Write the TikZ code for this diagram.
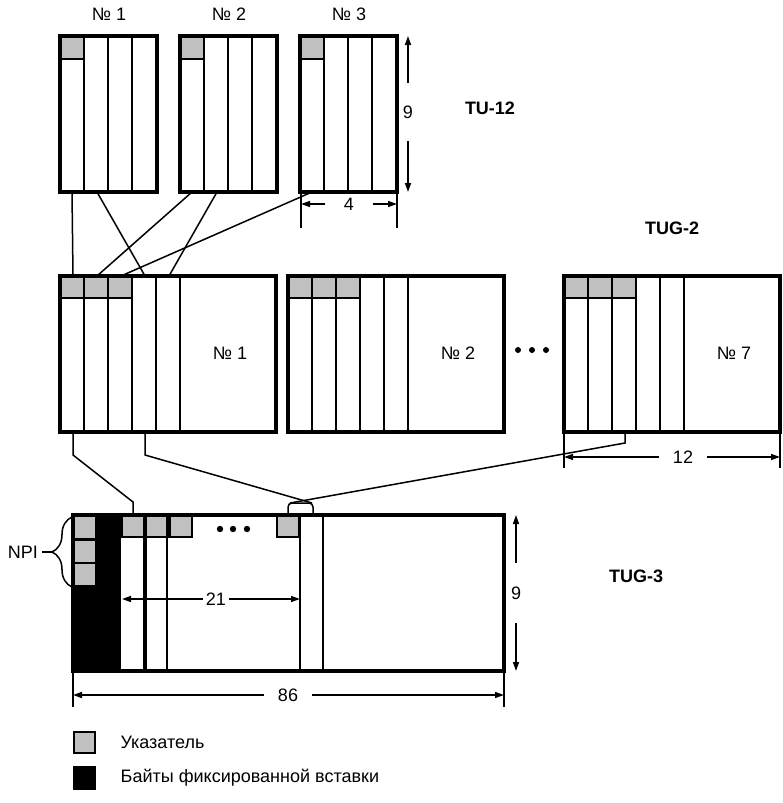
\documentclass[tikz,border=0pt]{standalone}
\usepackage{fontspec}
\setmainfont{Liberation Sans}
\usetikzlibrary{arrows.meta,positioning,calc,decorations.pathreplacing}
\definecolor{ptrgrey}{RGB}{192,192,192}
\tikzset{
  frame/.style={line width=3.3pt},
  divider/.style={line width=2.8pt},
  link/.style={line width=1.5pt},
  ptrcell/.style={fill=ptrgrey},
  dimarrow/.style={line width=1.5pt,-{Triangle[length=9pt,width=6pt]}},
  extline/.style={line width=1.5pt},
  dimlabel/.style={inner sep=0pt},
  title/.style={font=\fontsize{18}{21}\selectfont\bfseries},
}

\begin{document}
\begin{tikzpicture}[x=1pt,y=-1pt,font=\fontsize{18}{21}\selectfont]
        \useasboundingbox (0,0) rectangle (783,803);

        % TU-12 blocks
        \foreach \x/\n in {60/1,180/2,300/3} {
            \fill[ptrcell] (\x,36) rectangle (\x+24,59);
            \draw[line width=1.5pt] (\x,59) -- (\x+24,59);
            \foreach \c in {24,48,72}
                \draw[divider] (\x+\c,36) -- (\x+\c,192);
            \draw[frame] (\x,36) rectangle (\x+97,192);
            \node (tu\n) at (\x+49,14) {№ \n};
            \coordinate (tu\n-a) at (\x+12,192);
            \coordinate (tu\n-b) at (\x+37,192);
        }
        \node[title] (tu12) at (490,108) {TU-12};

        % TUG-2 blocks
        \foreach \x/\n in {60/1,288/2,564/7} {
            \fill[ptrcell] (\x,276) rectangle (\x+72,298);
            \draw[line width=1.5pt] (\x,298) -- (\x+72,298);
            \foreach \c in {24,48,72,96,120}
                \draw[divider] (\x+\c,276) -- (\x+\c,432);
            \draw[frame] (\x,276) rectangle (\x+216,432);
            \node (tug\n) at (\x+170,353) {№ \n};
            \foreach \k in {1,...,5} {
                \coordinate (tug\n-t\k) at (\x+24*\k-11,276);
                \coordinate (tug\n-b\k) at (\x+24*\k-11,432);
            }
        }
        \foreach \x in {518,532,546}
            \fill (\x,350) circle (3pt);
        \node[title] (tug2) at (672,228) {TUG-2};

        % TU-12 -> TUG-2
        \draw[link] (tu1-a) -- (tug1-t1);
        \draw[link] (tu1-b) -- (tug1-t4);
        \draw[link] (tu2-a) -- (tug1-t2);
        \draw[link] (tu2-b) -- (tug1-t5);
        \draw[link] (tu3-a) -- (tug1-t3);

        % TUG-3 block
        \fill (73,515) rectangle (121,671);
        \foreach \y in {517,541,564}
            \fill[ptrcell] (75,\y) rectangle (95,\y+21);
        \foreach \x in {122,146,170,277}
            \draw[ptrcell,line width=1.8pt] (\x,515) rectangle (\x+22,537);
        \foreach \x/\w in {145/4,167/2,300/2.2,323/2.2}
            \draw[line width=\w pt] (\x,515) -- (\x,671);
        \draw[frame] (73,515) rectangle (504,671);
        \foreach \x in {220,233,247}
            \fill (\x,529) circle (3.2pt);
        \node[title] (tug3) at (636,576) {TUG-3};
        \coordinate (tug3-in) at (133,515);
        \coordinate (cap-l) at (290,503);
        \coordinate (cap-r) at (312,503);
        \draw[link,rounded corners=4pt] (288,515) -- (288,503) -- (313,503) -- (313,515);

        % TUG-2 -> TUG-3
        \draw[link] (tug1-b1) -- ++(0,23) -- (133,502) -- (tug3-in);
        \draw[link] (tug1-b4) -- ++(0,23) -- (cap-r);
        \draw[link] (tug7-b3) -- ++(0,11) -- (cap-l);

        % NPI
        \draw[link,decorate,decoration={brace,amplitude=20pt}] (72,587) -- (72,517);
        \coordinate (npi-tip) at (52,552);
        \node (npi) at (23,552) {NPI};
        \draw[link] (npi.east) -- (npi-tip);

        % dimensions
        \node[dimlabel,minimum height=58pt] (d9a) at (408,112) {9};
        \draw[dimarrow] (d9a.north) -- (408,36);
        \draw[dimarrow] (d9a.south) -- (408,192);

        \draw[extline] (301,192) -- (301,228);
        \draw[extline] (397,192) -- (397,228);
        \node[dimlabel,minimum width=47pt] (d4) at (349,204) {4};
        \draw[dimarrow] (d4.west) -- (301,204);
        \draw[dimarrow] (d4.east) -- (397,204);

        \draw[extline] (564,432) -- (564,468);
        \draw[extline] (780,432) -- (780,468);
        \node[dimlabel,minimum width=47pt] (d12) at (683,457) {12};
        \draw[dimarrow] (d12.west) -- (564,457);
        \draw[dimarrow] (d12.east) -- (780,457);

        \node[dimlabel,minimum width=26pt] (d21) at (216,599) {21};
        \draw[dimarrow] (d21.west) -- (122,599);
        \draw[dimarrow] (d21.east) -- (300,599);

        \node[dimlabel,minimum height=60pt] (d9b) at (516,593) {9};
        \draw[dimarrow] (d9b.north) -- (516,515);
        \draw[dimarrow] (d9b.south) -- (516,671);

        \draw[extline] (73,671) -- (73,707);
        \draw[extline] (504,671) -- (504,707);
        \node[dimlabel,minimum width=47pt] (d86) at (288,695) {86};
        \draw[dimarrow] (d86.west) -- (73,695);
        \draw[dimarrow] (d86.east) -- (504,695);

        % legend
        \node[draw,fill=ptrgrey,line width=2pt,minimum size=21pt,inner sep=0pt] (keyptr) at (84.5,742.5) {};
        \node[fill=black,minimum width=23pt,minimum height=24pt,inner sep=0pt] (keyfix) at (84.5,778) {};
        \node[right=21pt of keyptr] (legptr) {Указатель};
        \node[right=21pt of keyfix] (legfix) {Байты фиксированной вставки};
    \end{tikzpicture}
\end{document}
